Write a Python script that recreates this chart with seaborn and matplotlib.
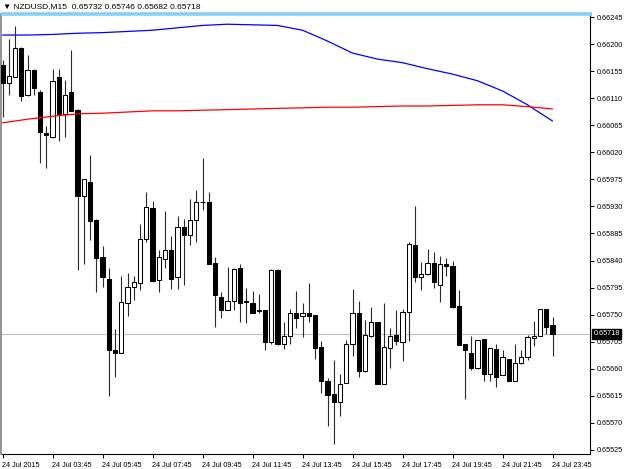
import matplotlib
matplotlib.use("Agg")
import matplotlib.pyplot as plt
import seaborn as sns
import numpy as np

# ---------------- data (NZDUSD M15, 24 Jul 2015, 01:45 .. 23:45) ----------------
OPEN = [0.66165, 0.66135, 0.66146, 0.66194, 0.66115, 0.66157, 0.66121, 0.66052, 0.66046, 0.66145,
        0.66084, 0.66120, 0.66091, 0.65948, 0.65971, 0.65907, 0.65846, 0.65810, 0.65691, 0.65687,
        0.65770, 0.65796, 0.65802, 0.65875, 0.65927, 0.65808, 0.65843, 0.65857, 0.65812, 0.65896,
        0.65882, 0.65907, 0.65938, 0.65937, 0.65836, 0.65779, 0.65758, 0.65772, 0.65827, 0.65772,
        0.65770, 0.65757, 0.65757, 0.65704, 0.65825, 0.65701, 0.65714, 0.65753, 0.65747, 0.65753,
        0.65749, 0.65696, 0.65639, 0.65618, 0.65605, 0.65637, 0.65702, 0.65752, 0.65656, 0.65714,
        0.65737, 0.65635, 0.65694, 0.65716, 0.65705, 0.65755, 0.65866, 0.65813, 0.65817, 0.65836,
        0.65800, 0.65835, 0.65831, 0.65764, 0.65701, 0.65687, 0.65661, 0.65709, 0.65652, 0.65693,
        0.65650, 0.65676, 0.65640, 0.65669, 0.65679, 0.65711, 0.65715, 0.65759, 0.65732]
HIGH = [0.66173, 0.66208, 0.66230, 0.66195, 0.66182, 0.66159, 0.66124, 0.66063, 0.66159, 0.66159,
        0.66140, 0.66190, 0.66092, 0.65976, 0.66015, 0.65909, 0.65865, 0.65828, 0.65726, 0.65814,
        0.65819, 0.65814, 0.65901, 0.65954, 0.65939, 0.65857, 0.65922, 0.65881, 0.65914, 0.65909,
        0.65942, 0.65957, 0.66010, 0.65954, 0.65846, 0.65788, 0.65830, 0.65827, 0.65834, 0.65795,
        0.65789, 0.65785, 0.65758, 0.65826, 0.65826, 0.65737, 0.65759, 0.65789, 0.65770, 0.65802,
        0.65750, 0.65706, 0.65644, 0.65675, 0.65652, 0.65708, 0.65792, 0.65773, 0.65741, 0.65763,
        0.65738, 0.65769, 0.65727, 0.65758, 0.65759, 0.65871, 0.65931, 0.65838, 0.65859, 0.65855,
        0.65848, 0.65844, 0.65840, 0.65791, 0.65702, 0.65714, 0.65708, 0.65710, 0.65694, 0.65702,
        0.65691, 0.65677, 0.65701, 0.65692, 0.65716, 0.65740, 0.65760, 0.65760, 0.65746]
LOW = [0.66079, 0.66115, 0.66145, 0.66106, 0.66114, 0.66115, 0.66003, 0.65994, 0.66044, 0.66038,
       0.66046, 0.66088, 0.65824, 0.65834, 0.65874, 0.65788, 0.65796, 0.65614, 0.65647, 0.65686,
       0.65748, 0.65775, 0.65791, 0.65871, 0.65805, 0.65788, 0.65827, 0.65792, 0.65792, 0.65799,
       0.65866, 0.65871, 0.65924, 0.65835, 0.65730, 0.65745, 0.65757, 0.65757, 0.65738, 0.65736,
       0.65752, 0.65752, 0.65691, 0.65701, 0.65700, 0.65693, 0.65702, 0.65727, 0.65713, 0.65737,
       0.65676, 0.65619, 0.65565, 0.65535, 0.65582, 0.65636, 0.65681, 0.65646, 0.65655, 0.65713,
       0.65634, 0.65634, 0.65662, 0.65699, 0.65673, 0.65707, 0.65805, 0.65791, 0.65816, 0.65794,
       0.65771, 0.65814, 0.65761, 0.65699, 0.65609, 0.65658, 0.65660, 0.65640, 0.65640, 0.65629,
       0.65649, 0.65639, 0.65639, 0.65668, 0.65675, 0.65698, 0.65714, 0.65718, 0.65682]
CLOSE = [0.66135, 0.66147, 0.66194, 0.66114, 0.66157, 0.66127, 0.66053, 0.66049, 0.66139, 0.66084,
         0.66116, 0.66089, 0.65948, 0.65975, 0.65906, 0.65845, 0.65813, 0.65691, 0.65687, 0.65771,
         0.65796, 0.65804, 0.65875, 0.65929, 0.65806, 0.65846, 0.65857, 0.65810, 0.65896, 0.65882,
         0.65907, 0.65938, 0.65937, 0.65835, 0.65782, 0.65757, 0.65772, 0.65826, 0.65770, 0.65771,
         0.65753, 0.65756, 0.65704, 0.65825, 0.65701, 0.65714, 0.65753, 0.65744, 0.65753, 0.65748,
         0.65694, 0.65640, 0.65616, 0.65604, 0.65634, 0.65701, 0.65753, 0.65656, 0.65716, 0.65737,
         0.65635, 0.65696, 0.65714, 0.65706, 0.65754, 0.65867, 0.65813, 0.65818, 0.65836, 0.65805,
         0.65835, 0.65831, 0.65762, 0.65699, 0.65692, 0.65661, 0.65708, 0.65652, 0.65694, 0.65647,
         0.65679, 0.65640, 0.65670, 0.65680, 0.65713, 0.65715, 0.65759, 0.65730, 0.65718]

# moving averages, sampled every 4 bars
MA_IDX = [0, 4, 8, 12, 16, 20, 24, 28, 32, 36, 40, 44, 48, 52, 56, 60, 64, 68, 72, 76, 80, 84, 88]
MA_BLUE = [0.66215, 0.66215, 0.66216, 0.66218, 0.66219, 0.66221, 0.66223, 0.66227, 0.66231, 0.66233,
           0.66232, 0.66231, 0.66223, 0.66205, 0.66185, 0.66175, 0.66169, 0.66159, 0.66150, 0.66139,
           0.66122, 0.66099, 0.66072]
MA_RED = [0.66069, 0.66075, 0.66080, 0.66084, 0.66085, 0.66087, 0.66089, 0.66089, 0.66090, 0.66091,
          0.66092, 0.66093, 0.66094, 0.66095, 0.66095, 0.66096, 0.66097, 0.66097, 0.66098, 0.66099,
          0.66099, 0.66096, 0.66092]

XTICK_POS = [0, 8, 16, 24, 32, 40, 48, 56, 64, 72, 80, 88]
XTICK_LABELS = ["24 Jul 2015", "24 Jul 03:45", "24 Jul 05:45", "24 Jul 07:45", "24 Jul 09:45",
                "24 Jul 11:45", "24 Jul 13:45", "24 Jul 15:45", "24 Jul 17:45", "24 Jul 19:45",
                "24 Jul 21:45", "24 Jul 23:45"]
YTICKS = [0.65525, 0.65570, 0.65615, 0.65660, 0.65705, 0.65750, 0.65795, 0.65840, 0.65885,
          0.65930, 0.65975, 0.66020, 0.66065, 0.66110, 0.66155, 0.66200, 0.66245]
SYMBOL = "NZDUSD,M15"

# ---------------- drawing ----------------
sns.set_style("white")
FONT = ["Liberation Sans", "DejaVu Sans"]
plt.rcParams["font.family"] = FONT

W, H = 625, 469
fig = plt.figure(figsize=(W / 100, H / 100), dpi=100)
left_px, right_px, top_px, bot_px = 1.5, 590, 14, 454
ax = fig.add_axes([left_px / W, (H - bot_px) / H, (right_px - left_px) / W, (bot_px - top_px) / H])

n = len(OPEN)
x = np.arange(n)
o = np.array(OPEN); c = np.array(CLOSE); hi = np.array(HIGH); lo = np.array(LOW)

# wicks
ax.vlines(x, lo, hi, color="#2a2a2a", lw=0.8, zorder=2)
# bodies
bull = c >= o
bottoms = np.minimum(o, c)
heights = np.abs(c - o)
fills = np.where(bull, "white", "black")
ax.bar(x, heights, bottom=bottoms, width=0.7, color=fills, edgecolor="black",
       linewidth=0.75, zorder=3)

# moving averages
sns.lineplot(x=MA_IDX, y=MA_BLUE, color="#0000ff", lw=0.9, ax=ax, zorder=4)
sns.lineplot(x=MA_IDX, y=MA_RED, color="#ff0000", lw=0.9, ax=ax, zorder=4)

# bid line
bid = CLOSE[-1]
ax.axhline(bid, color="#c0c0c0", lw=0.8, zorder=1)

# limits (pixel mapping: bar k -> 2.5 + 6.25k px ; 0.66245 -> y 17 px, 60133 px per unit)
ax.set_xlim((left_px - 2.5) / 6.25, (right_px - 2.5) / 6.25)
ax.set_ylim(0.66245 - (bot_px - 17) / 60133.0, 0.66245 + (17 - top_px) / 60133.0)

# axes styling
ax.spines["top"].set_visible(False)
ax.spines["left"].set_color("#8a8a8a")
ax.spines["left"].set_linewidth(1.3)
ax.spines["right"].set_color("black")
ax.spines["right"].set_linewidth(0.8)
ax.spines["bottom"].set_color("black")
ax.spines["bottom"].set_linewidth(0.8)

ax.yaxis.tick_right()
ax.set_yticks(YTICKS)
ax.set_yticklabels([f"{v:.5f}" for v in YTICKS])
ax.set_xticks(XTICK_POS)
ax.set_xticklabels(XTICK_LABELS, ha="left")
ax.tick_params(axis="y", which="both", right=True, left=False, direction="out", length=3,
               width=0.7, pad=2, labelsize=5.2, colors="black")
ax.tick_params(axis="x", which="both", bottom=True, direction="out", length=3, width=0.7,
               pad=2.5, labelsize=5.2, colors="black")
ax.set_xlabel("")
ax.set_ylabel("")
ax.grid(False)

# top light-blue line
ax.plot([0, 1.004], [1, 1], transform=ax.transAxes, color="#87cefa", lw=2.6,
        clip_on=False, zorder=6, solid_capstyle="butt")

# bid label on price axis
ax.text(1.0 + 3.5 / (right_px - left_px), bid, f"{bid:.5f}",
        transform=ax.get_yaxis_transform(), ha="left", va="center", fontsize=5.2,
        color="white", zorder=7, clip_on=False,
        bbox=dict(boxstyle="square,pad=0.2", fc="black", ec="black"))

# title
fig.text(3 / W, 1 - 7 / H,
         f"\u25bc {SYMBOL}  {OPEN[-1]:.5f} {HIGH[-1]:.5f} {LOW[-1]:.5f} {CLOSE[-1]:.5f}",
         ha="left", va="center", fontsize=6.0, family=FONT, color="black")

fig.savefig("out.png", dpi=100, facecolor="white")
